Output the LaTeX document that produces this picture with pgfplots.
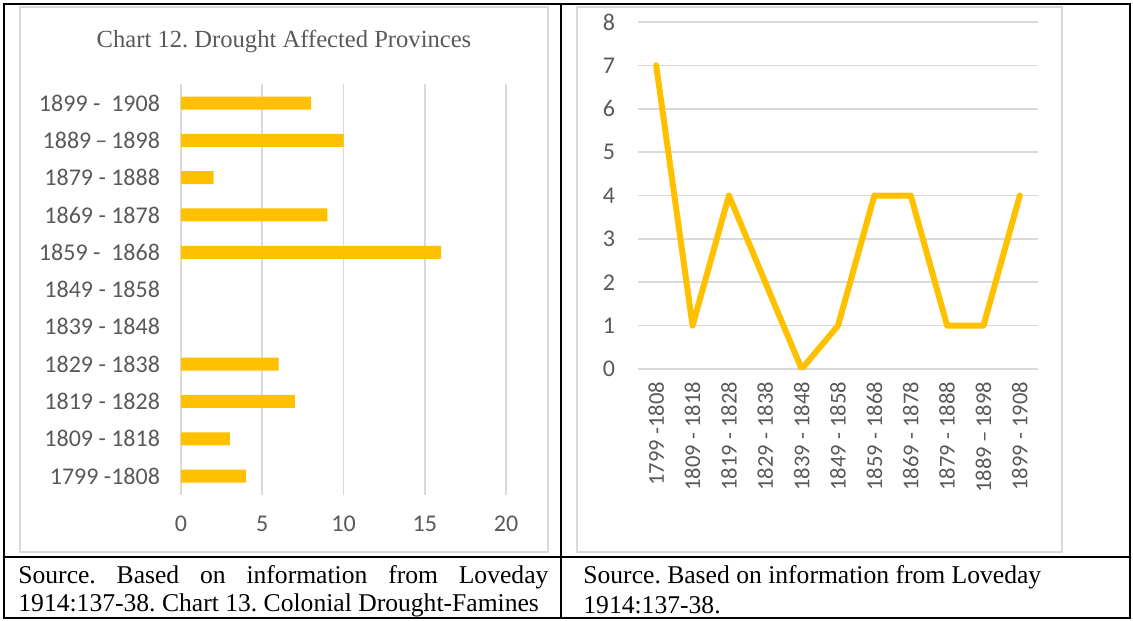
\documentclass[border=0pt]{standalone}
\usepackage{fontspec}
\setmainfont{Liberation Serif}
\newfontfamily\calibri[Ligatures=TeX]{Carlito}
\usepackage{pgfplots}
\pgfplotsset{compat=1.18}
\definecolor{gold}{HTML}{FFC000}
\definecolor{gridgray}{HTML}{D9D9D9}
\definecolor{labgray}{HTML}{595959}
\frenchspacing

\pgfplotstableread{
idx value
0 4
1 3
2 7
3 6
4 0
5 0
6 16
7 9
8 2
9 10
10 8
}\provinces

\pgfplotstableread{
idx value
0 7
1 1
2 4
3 2
4 0
5 1
6 4
7 4
8 1
9 1
10 4
}\famines

\begin{document}
\begin{tikzpicture}[x=0.5pt,y=-0.5pt]
% page area
\path (0,0) rectangle (1133,620);
% chart frames
\draw[gridgray, line width=0.8pt] (20,7) rectangle (548,552);
\draw[gridgray, line width=0.8pt] (577,7) rectangle (1062,552);
% table rules
\draw[black, line width=1pt] (4,4) rectangle (1130,618);
\draw[black, line width=1pt] (561,4) -- (561,618);
\draw[black, line width=1pt] (4,557) -- (1130,557);

% title of the left chart
\node[text=labgray, font=\fontsize{12.3}{14}\selectfont] at (284,41) {Chart 12. Drought Affected Provinces};

\begin{axis}[
  at={(90.5pt,-247.35pt)}, anchor=south west,
  scale only axis, width=162.5pt, height=205.15pt,
  xmin=0, xmax=20, ymin=-0.5, ymax=10.5,
  xtick={0,5,10,15,20},
  ytick={0,...,10},
  yticklabels={1799 -1808, 1809 - 1818, 1819 - 1828, 1829 - 1838, 1839 - 1848, 1849 - 1858, 1859 -\ \ 1868, 1869 - 1878, 1879 - 1888, 1889\,–\,1898, 1899 -\ \ 1908},
  xmajorgrids, grid style={gridgray, line width=0.8pt},
  axis line style={draw=none}, tick style={draw=none},
  /pgf/number format/assume math mode=true,
  ticklabel style={font=\calibri\fontsize{12}{14}\selectfont, text=labgray},
  xticklabel style={yshift=-7pt},
  yticklabel style={xshift=-7pt},
]
\addplot[xbar, fill=gold, draw=none, bar width=6.5pt] table[x=value, y=idx] {\provinces};
\end{axis}

\begin{axis}[
  at={(319pt,-184.5pt)}, anchor=south west,
  scale only axis, width=200pt, height=173.5pt,
  xmin=-0.5, xmax=10.5, ymin=0, ymax=8,
  xtick={0,...,10},
  xticklabels={1799 -1808, 1809 - 1818, 1819 - 1828, 1829 - 1838, 1839 - 1848, 1849 - 1858, 1859 - 1868, 1869 - 1878, 1879 - 1888, 1889\,–\,1898, 1899 - 1908},
  ytick={0,...,8},
  ymajorgrids, grid style={gridgray, line width=0.8pt},
  axis line style={draw=none}, tick style={draw=none},
  /pgf/number format/assume math mode=true,
  ticklabel style={font=\calibri\fontsize{12}{14}\selectfont, text=labgray},
  xticklabel style={rotate=90, anchor=east, font=\calibri\fontsize{11.3}{13}\selectfont, xshift=-3pt},
  yticklabel style={xshift=-8pt},
]
\addplot[gold, line width=3pt, line join=round, line cap=round] table[x=idx, y=value] {\famines};
\end{axis}

% captions
\node[anchor=west, inner sep=0, font=\fontsize{12.8}{14}\selectfont] at (18,577) {\makebox[265pt][s]{Source. Based on information from Loveday}};
\node[anchor=west, inner sep=0, font=\fontsize{12.8}{14}\selectfont] at (18,605) {1914:137-38. Chart 13. Colonial Drought-Famines};
\node[anchor=west, inner sep=0, font=\fontsize{12.8}{14}\selectfont] at (583,577) {Source. Based on information from Loveday};
\node[anchor=west, inner sep=0, font=\fontsize{12.8}{14}\selectfont] at (583,605) {1914:137-38.};
\end{tikzpicture}
\end{document}
